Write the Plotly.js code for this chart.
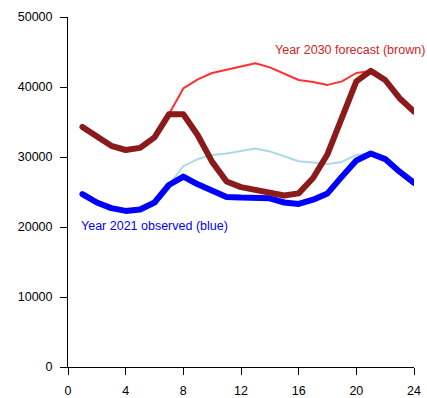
<!DOCTYPE html>
<html>
<head>
<meta charset="utf-8">
<script src="https://cdn.plot.ly/plotly-3.0.1.min.js"></script>
<style>
  html, body { margin: 0; padding: 0; background: #fff; }
  #chart { width: 427px; height: 398px; }
  .scatterlayer .js-line { stroke-linejoin: round !important; stroke-linecap: round !important; }
</style>
</head>
<body>
<div id="chart"></div>
<script>
// Hour of day
const hours = [1,2,3,4,5,6,7,8,9,10,11,12,13,14,15,16,17,18,19,20,21,22,23,24];

// Year 2021 observed load (blue) and its unshifted reference profile (light blue)
const observed2021 = [24700,23500,22700,22300,22500,23500,26000,27200,26100,25200,24300,24200,
                      24200,24100,23500,23300,23900,24800,27200,29500,30500,29700,27900,26300];
const observed2021Base = [24700,23500,22700,22300,22500,23500,26000,28700,29700,30300,30500,30900,
                          31200,30800,30100,29400,29200,29000,29300,30300,30500,29700,27900,26300];

// Year 2030 forecast load (brown) and its unshifted reference profile (light red)
const forecast2030 = [34300,32900,31600,31000,31300,32800,36100,36100,33100,29300,26500,25700,
                      25300,25100,24500,24800,27000,30400,35500,40800,42300,41000,38400,36500];
const forecast2030Base = [34300,32900,31600,31000,31300,32800,36100,39800,41100,42000,42500,43000,
                          43400,42800,41900,41000,40700,40300,40800,42000,42300,41000,38400,36500];

const xTicks = [0,4,8,12,16,20,24];
const yTicks = [0,10000,20000,30000,40000,50000];

const labelForecast = 'Year 2030 forecast (brown)';
const labelObserved = 'Year 2021 observed (blue)';

const font = 'Liberation Sans, Arial, Helvetica, sans-serif';

const traces = [
  { x: hours, y: forecast2030Base, mode: 'lines', line: { color: '#FF3030', width: 2 }, hoverinfo: 'skip' },
  { x: hours, y: observed2021Base, mode: 'lines', line: { color: '#ADD8E6', width: 2 }, hoverinfo: 'skip' },
  { x: hours, y: observed2021, mode: 'lines', line: { color: '#0000FF', width: 6 }, hoverinfo: 'skip' },
  { x: hours, y: forecast2030, mode: 'lines', line: { color: '#8B1A1A', width: 6 }, hoverinfo: 'skip' }
];

const axisCommon = {
  showgrid: false, zeroline: false, showline: true, linecolor: '#000', linewidth: 1,
  ticks: 'outside', ticklen: 7, tickwidth: 1, tickcolor: '#000',
  tickfont: { family: font, size: 12.5, color: '#000' },
  fixedrange: true
};

const layout = {
  width: 427, height: 398,
  margin: { l: 68, r: 13, t: 17, b: 31, pad: 0 },
  paper_bgcolor: '#fff', plot_bgcolor: '#fff',
  showlegend: false,
  font: { family: font, size: 12.5, color: '#000' },
  xaxis: Object.assign({}, axisCommon, {
    range: [0, 24], tickmode: 'array', tickvals: xTicks, ticktext: xTicks.map(String),
    ticklabelstandoff: 5
  }),
  yaxis: Object.assign({}, axisCommon, {
    range: [0, 50000], tickmode: 'array', tickvals: yTicks, ticktext: yTicks.map(String),
    ticklabelstandoff: 5
  }),
  annotations: [
    { xref: 'paper', yref: 'paper', x: 1.038, y: 0.906, xanchor: 'right', yanchor: 'middle',
      text: labelForecast, showarrow: false, font: { family: font, size: 12.5, color: '#CD2626' } },
    { xref: 'paper', yref: 'paper', x: 0.031, y: 0.403, xanchor: 'left', yanchor: 'middle',
      text: labelObserved, showarrow: false, font: { family: font, size: 12.5, color: '#0000FF' } }
  ]
};

Plotly.newPlot('chart', traces, layout, { displayModeBar: false, staticPlot: true });
</script>
</body>
</html>
